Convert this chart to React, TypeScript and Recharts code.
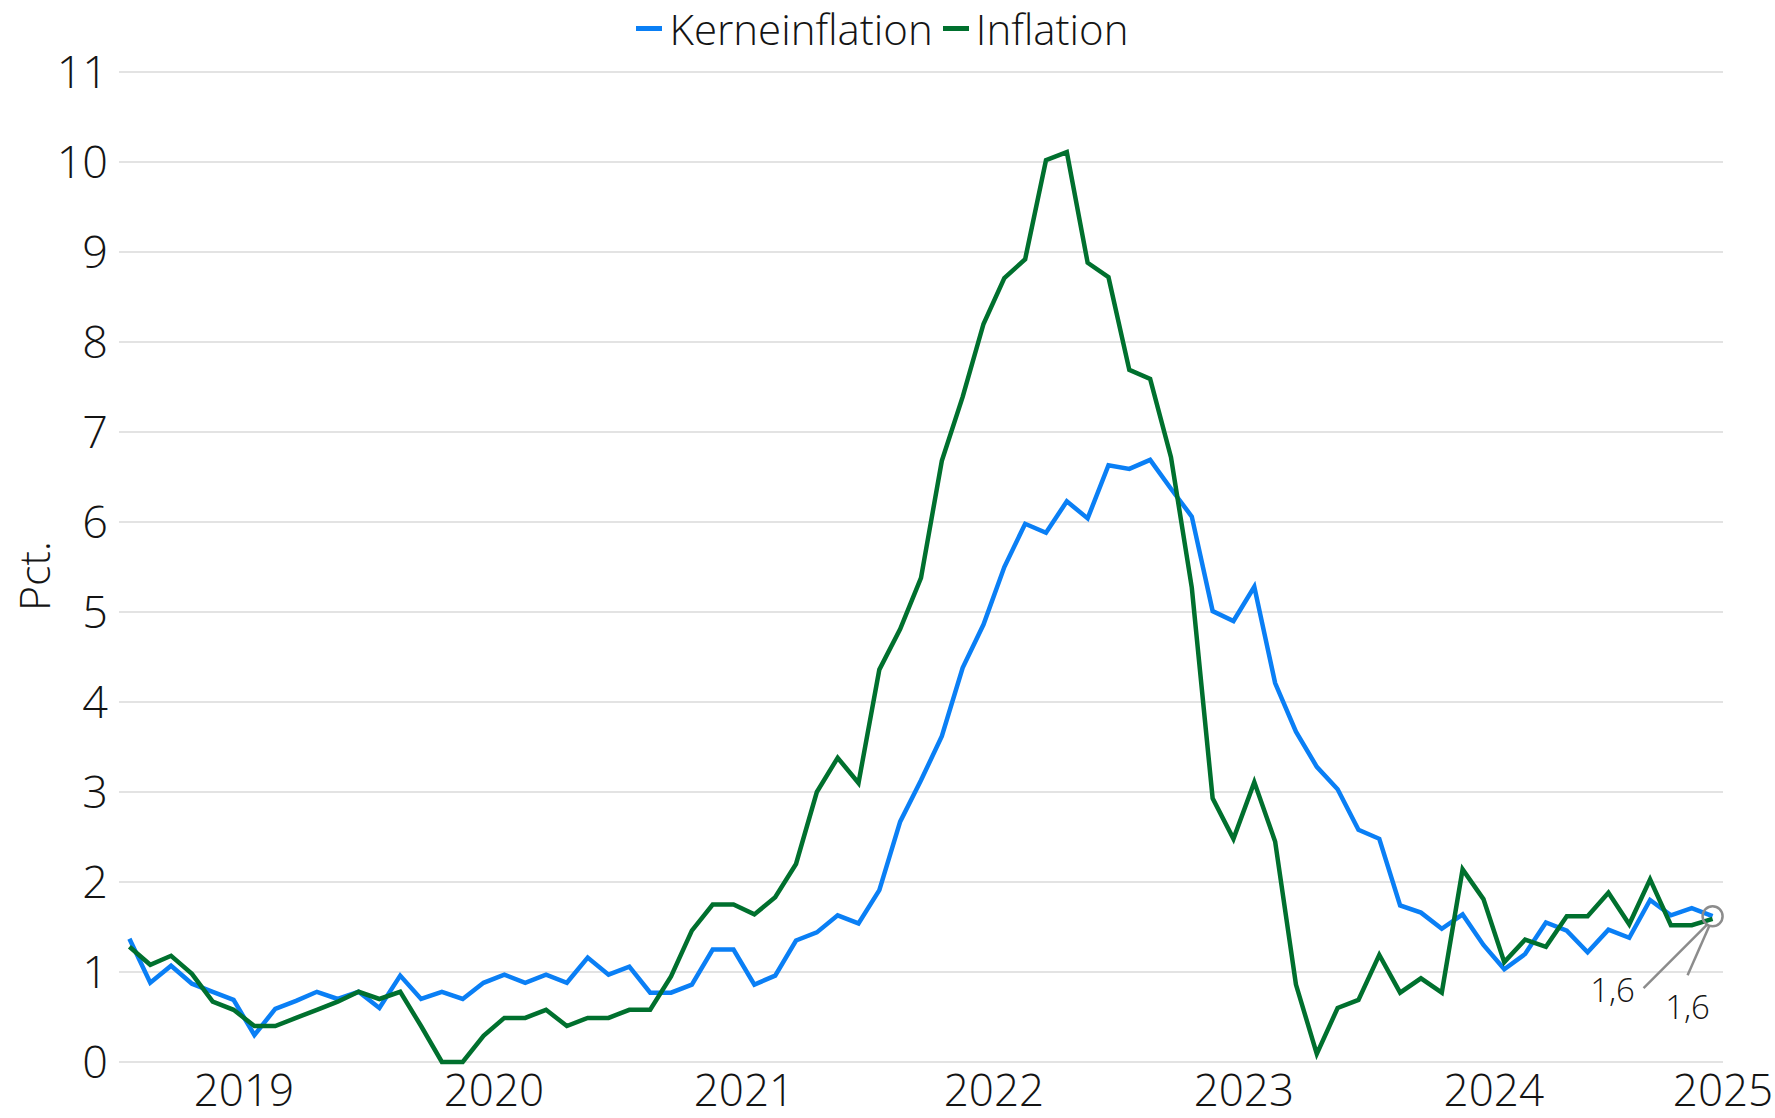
import React from "react";
import {
  LineChart,
  Line,
  CartesianGrid,
  XAxis,
  YAxis,
  Legend,
  ReferenceDot,
} from "recharts";

// Kerneinflation vs. inflation, monthly, Jan 2019 – May 2025 (pct.)

const FONT = '"Open Sans", "Noto Sans", sans-serif';
const BLUE = "#0a7ff5";
const GREEN = "#00702e";
const GRID = "#c8c8c8";
const TEXT = "#141414";

// month index 0 = Jan 2019
const KERNE = [
  1.37, 0.88, 1.07, 0.87, 0.78, 0.69, 0.3, 0.59, 0.68, 0.78, 0.7, 0.78,
  0.6, 0.96, 0.7, 0.78, 0.7, 0.88, 0.97, 0.88, 0.97, 0.88, 1.16, 0.97,
  1.06, 0.77, 0.77, 0.86, 1.25, 1.25, 0.86, 0.96, 1.35, 1.44, 1.63, 1.54,
  1.91, 2.67, 3.13, 3.62, 4.38, 4.86, 5.5, 5.98, 5.88, 6.23, 6.04, 6.63,
  6.59, 6.69, 6.37, 6.06, 5.01, 4.9, 5.28, 4.21, 3.67, 3.28, 3.03, 2.58,
  2.48, 1.74, 1.66, 1.48, 1.64, 1.3, 1.03, 1.2, 1.55, 1.46, 1.22, 1.47,
  1.38, 1.8, 1.63, 1.71, 1.62,
];

const INFLATION = [
  1.28, 1.08, 1.18, 0.98, 0.67, 0.58, 0.4, 0.4, 0.49, 0.58, 0.67, 0.78,
  0.7, 0.78, 0.4, 0.0, 0.0, 0.29, 0.49, 0.49, 0.58, 0.4, 0.49, 0.49,
  0.58, 0.58, 0.95, 1.46, 1.75, 1.75, 1.64, 1.83, 2.2, 3.0, 3.38, 3.1,
  4.36, 4.81, 5.38, 6.68, 7.39, 8.2, 8.71, 8.92, 10.02, 10.11, 8.88, 8.72,
  7.69, 7.59, 6.72, 5.27, 2.93, 2.48, 3.11, 2.45, 0.86, 0.09, 0.6, 0.69,
  1.19, 0.77, 0.93, 0.77, 2.14, 1.81, 1.11, 1.36, 1.28, 1.62, 1.62, 1.88,
  1.53, 2.03, 1.52, 1.52, 1.59,
];

const YEARS = ["2019", "2020", "2021", "2022", "2023", "2024", "2025"];
// year labels sit mid-year; the last one is pinned to the right edge
const YEAR_TICKS = [5.5, 17.5, 29.5, 41.5, 53.5, 65.5, 76.5];
const Y_TICKS = [0, 1, 2, 3, 4, 5, 6, 7, 8, 9, 10, 11];

const SERIES = [
  { key: "kerne", name: "Kerneinflation", color: BLUE },
  { key: "infl", name: "Inflation", color: GREEN },
];

const rows = KERNE.map((v, i) => ({ m: i, kerne: v, infl: INFLATION[i] }));
const last = rows.length - 1;

const fmt = (v: number) => v.toFixed(1).replace(".", ",");

function LegendBox() {
  return (
    <div
      style={{
        height: 56,
        display: "flex",
        justifyContent: "center",
        alignItems: "center",
        fontSize: 42,
        fontStretch: "100%",
        color: TEXT,
      }}
    >
      {SERIES.map((s) => (
        <span
          key={s.key}
          style={{ display: "flex", alignItems: "center", marginRight: 10 }}
        >
          <span
            style={{
              display: "inline-block",
              width: 26,
              height: 5,
              background: s.color,
              marginRight: 7,
            }}
          />
          {s.name}
        </span>
      ))}
    </div>
  );
}

function PctLabel(props: any) {
  const vb = props.viewBox || { x: 0, y: 0, height: 0 };
  const x = vb.x + 50;
  const y = vb.y + vb.height / 2 + 9;
  return (
    <text
      x={x}
      y={y}
      transform={`rotate(-90, ${x}, ${y})`}
      textAnchor="middle"
      fontSize={43}
      fill={TEXT}
    >
      Pct.
    </text>
  );
}

function EndMarker(props: any) {
  const { cx, cy } = props;
  if (cx == null || cy == null) return null;
  return (
    <g>
      <circle cx={cx} cy={cy} r={10} fill="none" stroke="#8c8c8c" strokeWidth={2.5} />
      <line x1={cx - 6} y1={cy + 9} x2={cx - 69} y2={cy + 72} stroke="#8c8c8c" strokeWidth={2.5} />
      <line x1={cx - 3} y1={cy + 9} x2={cx - 25} y2={cy + 59} stroke="#8c8c8c" strokeWidth={2.5} />
      <text x={cx - 100} y={cy + 73} textAnchor="middle" dominantBaseline="central" fontSize={33} fill={TEXT}>
        {fmt(KERNE[last])}
      </text>
      <text x={cx - 25} y={cy + 90} textAnchor="middle" dominantBaseline="central" fontSize={33} fill={TEXT}>
        {fmt(INFLATION[last])}
      </text>
    </g>
  );
}

export default function App() {
  return (
    <div
      style={{
        position: "absolute",
        left: 0,
        top: 0,
        width: 1775,
        height: 1118,
        background: "#fff",
        fontFamily: FONT,
        fontWeight: 300,
        fontStretch: "95%",
      }}
    >
      <LineChart
        width={1775}
        height={1118}
        data={rows}
        margin={{ top: 16, right: 52, bottom: 0, left: 0 }}
      >
        <CartesianGrid vertical={false} stroke={GRID} strokeWidth={1.2} />
        <XAxis
          dataKey="m"
          type="number"
          domain={[-0.5, 76.5]}
          ticks={YEAR_TICKS}
          interval={0}
          tickFormatter={(v: number) => YEARS[YEAR_TICKS.indexOf(v)] ?? ""}
          axisLine={false}
          tickLine={false}
          height={56}
          tickMargin={7}
          tick={{ fontSize: 44, fill: TEXT }}
        />
        <YAxis
          type="number"
          domain={[0, 11]}
          ticks={Y_TICKS}
          interval={0}
          width={119}
          axisLine={false}
          tickLine={false}
          tickMargin={5}
          tick={{ fontSize: 45, fill: TEXT }}
          label={<PctLabel />}
        />
        <Legend
          verticalAlign="top"
          align="center"
          content={() => <LegendBox />}
          wrapperStyle={{ left: 0, top: 0, width: 1775 }}
        />
        {SERIES.map((s) => (
          <Line
            key={s.key}
            type="linear"
            dataKey={s.key}
            name={s.name}
            stroke={s.color}
            strokeWidth={4.5}
            dot={false}
            activeDot={false}
            isAnimationActive={false}
          />
        ))}
        <ReferenceDot x={last} y={KERNE[last]} r={10} shape={<EndMarker />} />
      </LineChart>
    </div>
  );
}
